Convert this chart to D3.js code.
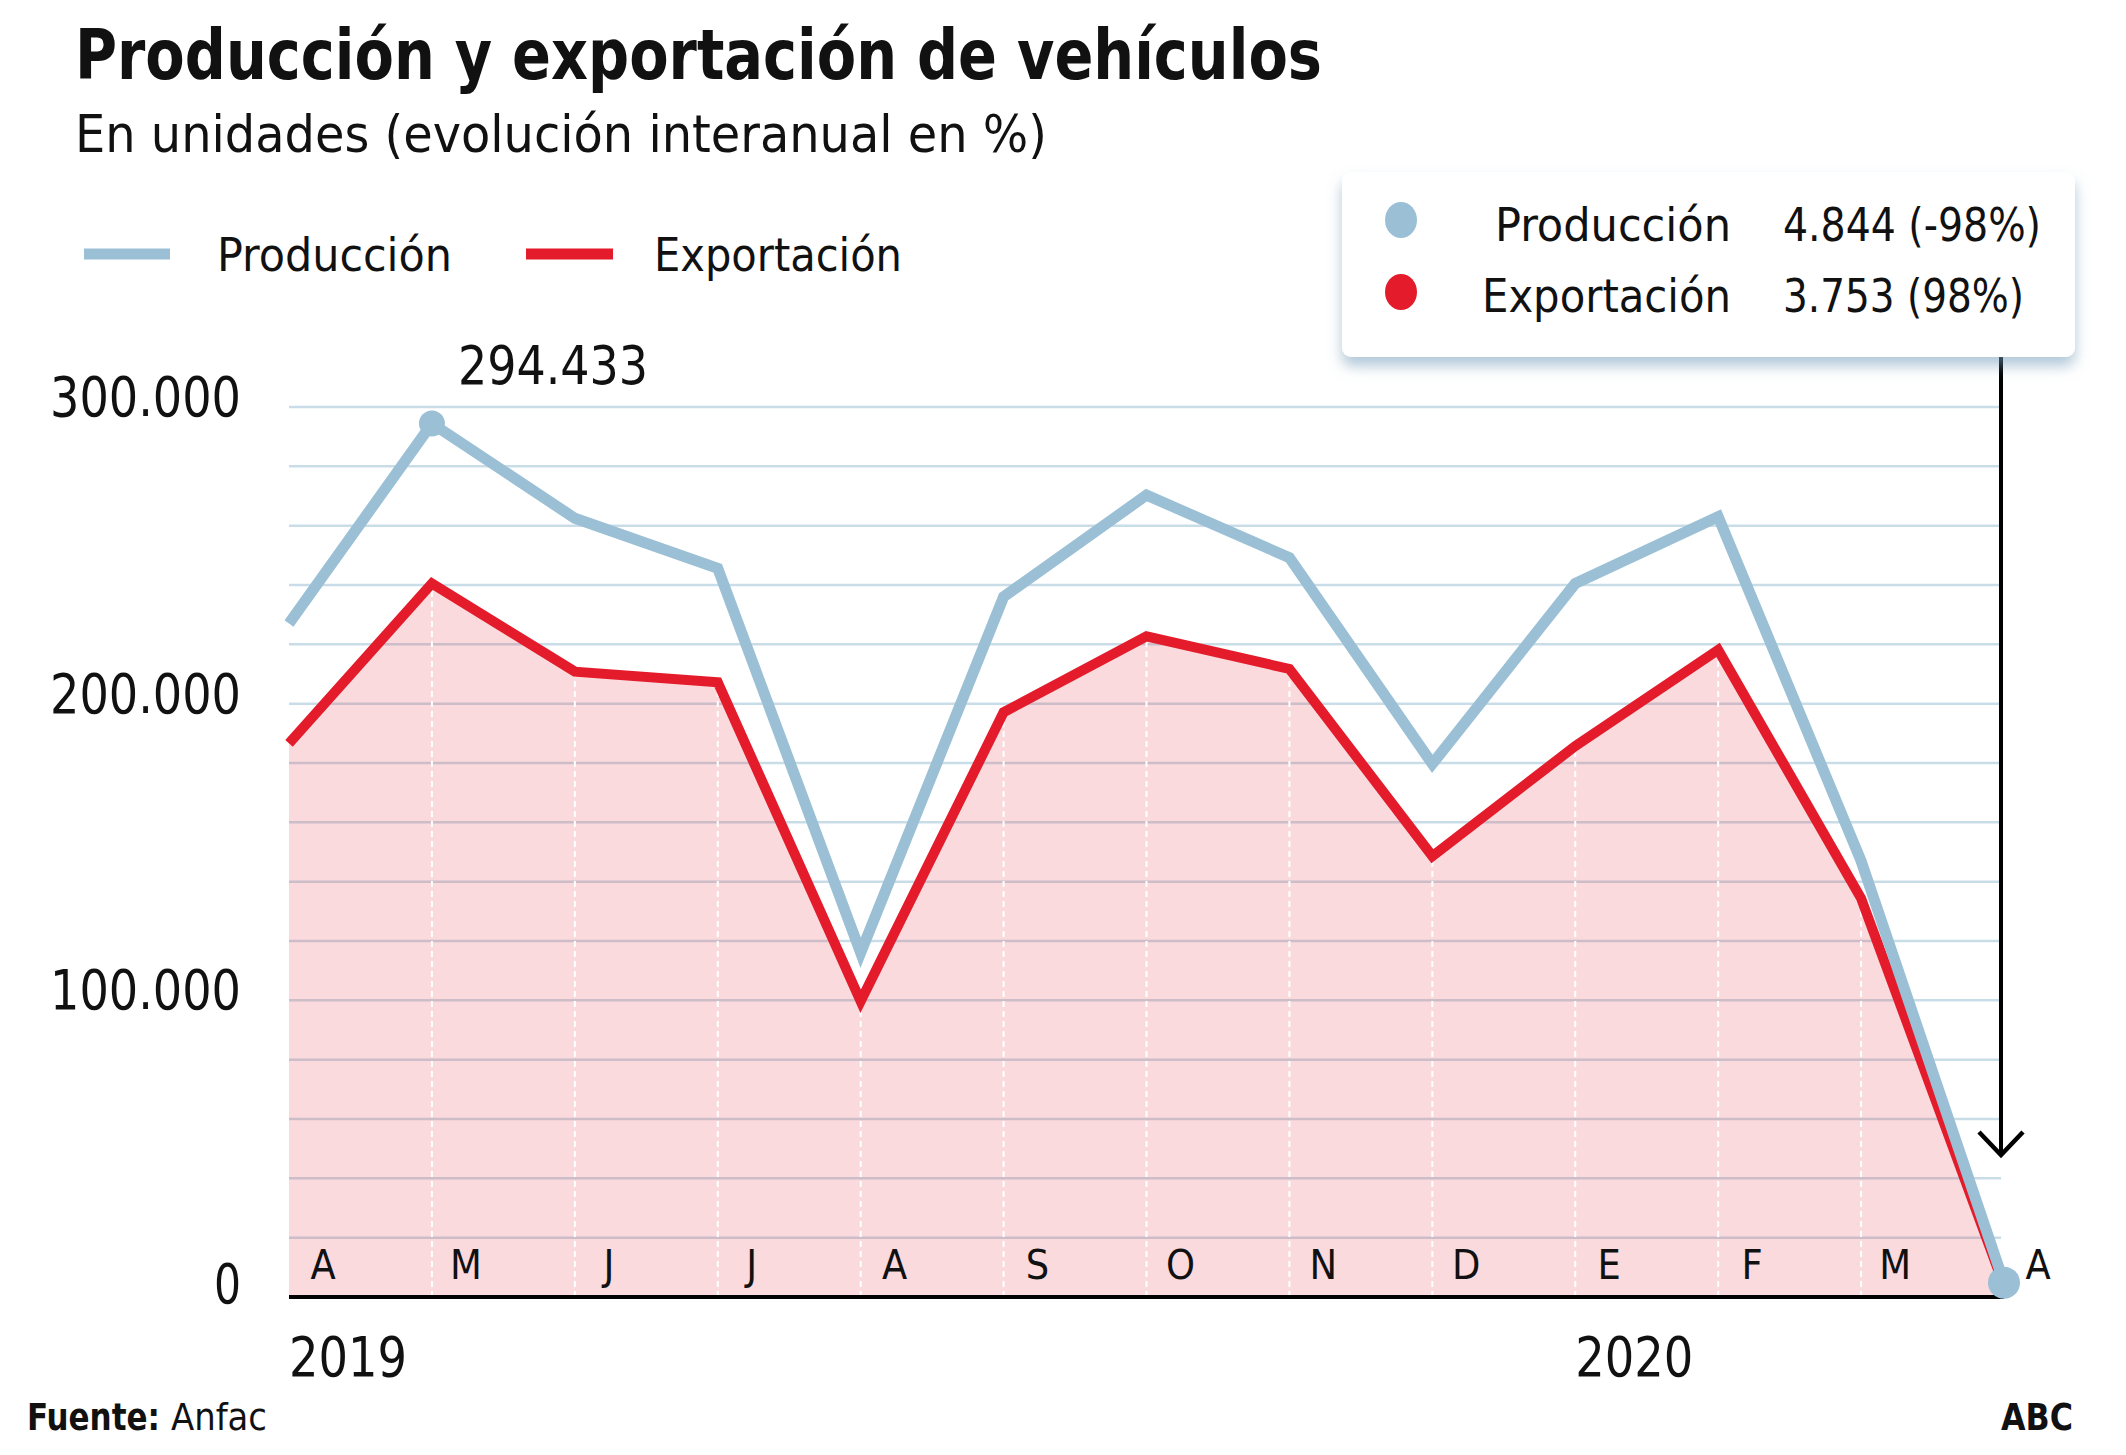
<!DOCTYPE html>
<html>
<head>
<meta charset="utf-8">
<script src="https://cdn.jsdelivr.net/npm/d3@7"></script>
<style>
  html, body { margin: 0; padding: 0; background: #fff; }
  svg { display: block; }
  text { font-family: "Liberation Sans Narrow", "DejaVu Sans Condensed", "Open Sans", sans-serif; fill: #111; }
</style>
</head>
<body>
<svg id="chart" width="2126" height="1455"></svg>
<script>
// ---------------- DATA ----------------
const months = ["A", "M", "J", "J", "A", "S", "O", "N", "D", "E", "F", "M", "A"];
const produccion = [227000, 294433, 262500, 245600, 116000, 236000, 270300, 249200, 179700, 240500, 263000, 147000, 4844];
const exportacion = [186600, 240500, 210800, 207200, 99700, 197100, 222700, 211700, 148600, 185700, 218100, 134400, 3753];
const yTicks = [0, 100000, 200000, 300000];
const gridValues = [20000, 40000, 60000, 80000, 100000, 120000, 140000, 160000, 180000, 200000, 220000, 240000, 260000, 280000, 300000];
const years = [{label: "2019", index: 0}, {label: "2020", index: 9}];
const seriesNames = ["Producción", "Exportación"];
const lastLabels = ["4.844 (-98%)", "3.753 (98%)"];
const peakLabel = "294.433";

// ---------------- SETUP ----------------
const svg = d3.select("#chart");
const BLUE = "#9bc0d6", RED = "#e31b2a";
const locale = d3.formatLocale({decimal: ",", thousands: ".", grouping: [3], currency: ["", ""]});
const fmt = locale.format(",");

const x = d3.scalePoint().domain(d3.range(months.length)).range([289, 2004]);
const y = d3.scaleLinear().domain([0, 300000]).range([1297, 407]);

function txt(sel, s, width) {
  sel.text(s);
  if (width) sel.attr("textLength", width).attr("lengthAdjust", "spacingAndGlyphs");
  return sel;
}

// defs: shadow
const defs = svg.append("defs");
const f = defs.append("filter").attr("id", "shadow").attr("x", "-10%").attr("y", "-20%").attr("width", "120%").attr("height", "150%");
f.append("feDropShadow").attr("dx", 0).attr("dy", 9).attr("stdDeviation", 7)
  .attr("flood-color", "#6f9bb8").attr("flood-opacity", 0.55);

// gridlines
svg.append("g").selectAll("line").data(gridValues).join("line")
  .attr("x1", 289).attr("x2", 2001)
  .attr("y1", d => y(d)).attr("y2", d => y(d))
  .attr("stroke", "#c9dde8").attr("stroke-width", 2.5);

// area
const area = d3.area().x((d, i) => x(i)).y0(y(0)).y1(d => y(d)).curve(d3.curveLinear);
svg.append("path").datum(exportacion).attr("d", area)
  .attr("fill", RED).attr("fill-opacity", 0.16);

// dashed white verticals
svg.append("g").selectAll("line").data(exportacion.slice(1, -1)).join("line")
  .attr("x1", (d, i) => x(i + 1)).attr("x2", (d, i) => x(i + 1))
  .attr("y1", y(0)).attr("y2", d => y(d))
  .attr("stroke", "#ffffff").attr("stroke-width", 2).attr("stroke-dasharray", "6,4");

// baseline
svg.append("line").attr("x1", 289).attr("x2", 2004).attr("y1", y(0)).attr("y2", y(0))
  .attr("stroke", "#000").attr("stroke-width", 4);

// lines
const line = d3.line().x((d, i) => x(i)).y(d => y(d));
svg.append("path").datum(exportacion).attr("d", line)
  .attr("fill", "none").attr("stroke", RED).attr("stroke-width", 10).attr("stroke-linejoin", "miter");
svg.append("path").datum(produccion).attr("d", line)
  .attr("fill", "none").attr("stroke", BLUE).attr("stroke-width", 11).attr("stroke-linejoin", "miter");

// dots
svg.append("circle").attr("cx", x(1)).attr("cy", y(produccion[1])).attr("r", 13).attr("fill", BLUE);
svg.append("circle").attr("cx", x(12)).attr("cy", y(produccion[12])).attr("r", 16).attr("fill", BLUE);

// peak label
txt(svg.append("text").attr("x", 458).attr("y", 384).attr("font-size", 54), peakLabel, 190);

// y labels
svg.append("g").selectAll("text").data(yTicks).join("text")
  .attr("x", 241).attr("y", d => y(d) + (d === 0 ? 6 : 9))
  .attr("text-anchor", "end").attr("font-size", 56)
  .each(function(d) { txt(d3.select(this), fmt(d), d === 0 ? 27 : 191); });

// month labels
svg.append("g").selectAll("text").data(months).join("text")
  .attr("x", (d, i) => x(i) + 34).attr("y", 1279)
  .attr("text-anchor", "middle").attr("font-size", 41)
  .text(d => d);

// years
svg.append("g").selectAll("text").data(years).join("text")
  .attr("x", d => x(d.index)).attr("y", 1376).attr("font-size", 56)
  .each(function(d) { txt(d3.select(this), d.label, 118); });

// legend (top-left)
const legendColors = [BLUE, RED];
const legX = [[84, 170, 217, 235], [526, 613, 654, 248]];
seriesNames.forEach((n, i) => {
  svg.append("line").attr("x1", legX[i][0]).attr("x2", legX[i][1]).attr("y1", 254).attr("y2", 254)
    .attr("stroke", legendColors[i]).attr("stroke-width", 11);
  txt(svg.append("text").attr("x", legX[i][2]).attr("y", 271).attr("font-size", 47), n, legX[i][3]);
});

// title
txt(svg.append("text").attr("x", 75).attr("y", 79).attr("font-size", 70).attr("font-weight", "bold"),
  "Producción y exportación de vehículos", 1247);
txt(svg.append("text").attr("x", 75).attr("y", 152).attr("font-size", 51),
  "En unidades (evolución interanual en %)", 972);

// arrow
svg.append("line").attr("x1", 2001).attr("x2", 2001).attr("y1", 350).attr("y2", 1156)
  .attr("stroke", "#000").attr("stroke-width", 4);
svg.append("polyline").attr("points", "1979,1132 2001,1155 2023,1132")
  .attr("fill", "none").attr("stroke", "#000").attr("stroke-width", 4.5);

// tooltip box
svg.append("rect").attr("x", 1342).attr("y", 172).attr("width", 733).attr("height", 185).attr("rx", 9)
  .attr("fill", "#fff").attr("filter", "url(#shadow)");
const ttRows = [[220, 241, 236, 258], [292, 312, 249, 241]];
seriesNames.forEach((n, i) => {
  svg.append("ellipse").attr("cx", 1401).attr("cy", ttRows[i][0]).attr("rx", 16).attr("ry", 18).attr("fill", legendColors[i]);
  txt(svg.append("text").attr("x", 1731).attr("y", ttRows[i][1]).attr("text-anchor", "end").attr("font-size", 47), n, ttRows[i][2]);
  txt(svg.append("text").attr("x", 1783).attr("y", ttRows[i][1]).attr("font-size", 47), lastLabels[i], ttRows[i][3]);
});

// footer
const foot = svg.append("text").attr("x", 27).attr("y", 1430).attr("font-size", 38);
foot.append("tspan").attr("font-weight", "bold").attr("textLength", 133).attr("lengthAdjust", "spacingAndGlyphs").text("Fuente:");
foot.append("tspan").attr("x", 171).attr("textLength", 96).attr("lengthAdjust", "spacingAndGlyphs").text("Anfac");
txt(svg.append("text").attr("x", 2073).attr("y", 1430).attr("text-anchor", "end").attr("font-size", 38).attr("font-weight", "bold"), "ABC", 72);
</script>
</body>
</html>
